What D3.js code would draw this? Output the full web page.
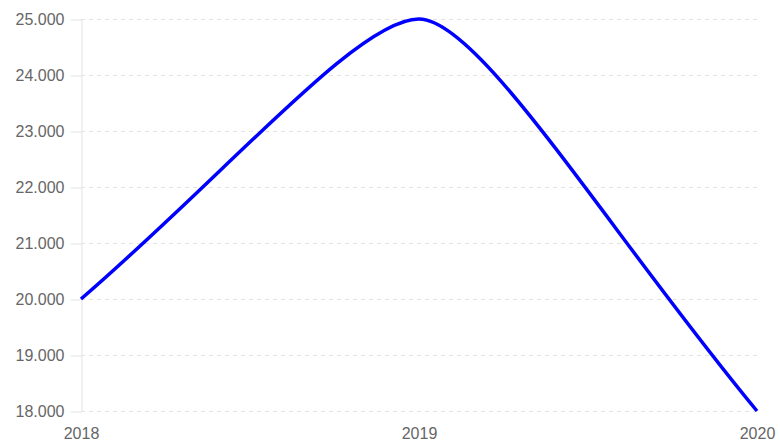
<!DOCTYPE html>
<html>
<head>
<meta charset="utf-8">
<script src="https://cdn.jsdelivr.net/npm/d3@7/dist/d3.min.js"></script>
<style>
  body { margin: 0; background: #fff; }
  svg text { font-family: "Liberation Sans", Arial, Helvetica, sans-serif; }
</style>
</head>
<body>
<div id="chart"></div>
<script>
// data
var years = ['2018', '2019', '2020'];
var values = [20000, 25000, 18000];
var y_ticks = [18000, 19000, 20000, 21000, 22000, 23000, 24000, 25000];

var chart_width = 780;
var chart_height = 447;
var plot_left = 81, plot_right = 757, plot_top = 19, plot_bottom = 411;

// german style number format: 25.000
var de = d3.formatLocale({ decimal: ',', thousands: '.', grouping: [3], currency: ['', ' €'] });
var fmt = de.format(',.0f');

var svg = d3.select('#chart')
  .append('svg')
  .attr('width', chart_width)
  .attr('height', chart_height);

var x_scale = d3.scalePoint()
  .domain(years)
  .range([plot_left, plot_right]);

var y_scale = d3.scaleLinear()
  .domain([18000, 25000])
  .range([plot_bottom, plot_top]);

// horizontal grid lines (dashed)
svg.append('g')
  .selectAll('line')
  .data(y_ticks)
  .enter()
  .append('line')
  .attr('x1', plot_left)
  .attr('x2', plot_right)
  .attr('y1', function(d) { return y_scale(d) + 0.5; })
  .attr('y2', function(d) { return y_scale(d) + 0.5; })
  .attr('stroke', '#e3e3e3')
  .attr('stroke-width', 1)
  .attr('stroke-dasharray', '4,4');

// y axis
var y_axis = d3.axisLeft(y_scale)
  .tickValues(y_ticks)
  .tickFormat(fmt)
  .tickSize(11)
  .tickSizeOuter(0)
  .tickPadding(6);
var gy = svg.append('g')
  .attr('transform', 'translate(' + (plot_left + 0.5) + ',0.5)')
  .call(y_axis);
gy.select('.domain').attr('stroke', '#e3e3e3');
gy.selectAll('.tick line').attr('stroke', '#e3e3e3');
gy.selectAll('.tick text')
  .attr('fill', '#666')
  .style('font-size', '16px');

// x axis labels
var x_axis = d3.axisBottom(x_scale)
  .tickSize(0)
  .tickPadding(17);
var gx = svg.append('g')
  .attr('transform', 'translate(0,' + plot_bottom + ')')
  .call(x_axis);
gx.select('.domain').remove();
gx.selectAll('.tick text')
  .attr('fill', '#666')
  .style('font-size', '16px');

// smooth line: long handles at the ends, short flat handles at the peak
var end_handle = 0.44;   // share of the segment width
var peak_handle = 0.18;
var end_boost = 1.04;    // ends a bit steeper than the straight chord

var pts = values.map(function(v, i) {
  return [x_scale(years[i]), y_scale(v)];
});
function slope(a, b) { return (b[1] - a[1]) / (b[0] - a[0]); }

var path = d3.path();
path.moveTo(pts[0][0], pts[0][1]);
for (var j = 0; j < pts.length - 1; j++) {
  var p0 = pts[j], p1 = pts[j + 1];
  var w = p1[0] - p0[0];
  var s = slope(p0, p1);
  var m0, m1, h0, h1;
  if (j === 0) { m0 = s * end_boost; h0 = end_handle * w; }
  else {
    var sp = slope(pts[j - 1], p0);
    m0 = sp * s <= 0 ? 0 : (sp + s) / 2;
    h0 = peak_handle * w;
  }
  if (j === pts.length - 2) { m1 = s * end_boost; h1 = end_handle * w; }
  else {
    var sn = slope(p1, pts[j + 2]);
    m1 = sn * s <= 0 ? 0 : (sn + s) / 2;
    h1 = peak_handle * w;
  }
  path.bezierCurveTo(
    p0[0] + h0, p0[1] + m0 * h0,
    p1[0] - h1, p1[1] - m1 * h1,
    p1[0], p1[1]);
}

svg.append('path')
  .attr('d', path.toString())
  .attr('fill', 'none')
  .attr('stroke', '#0000ff')
  .attr('stroke-width', 3.5);
</script>
</body>
</html>
